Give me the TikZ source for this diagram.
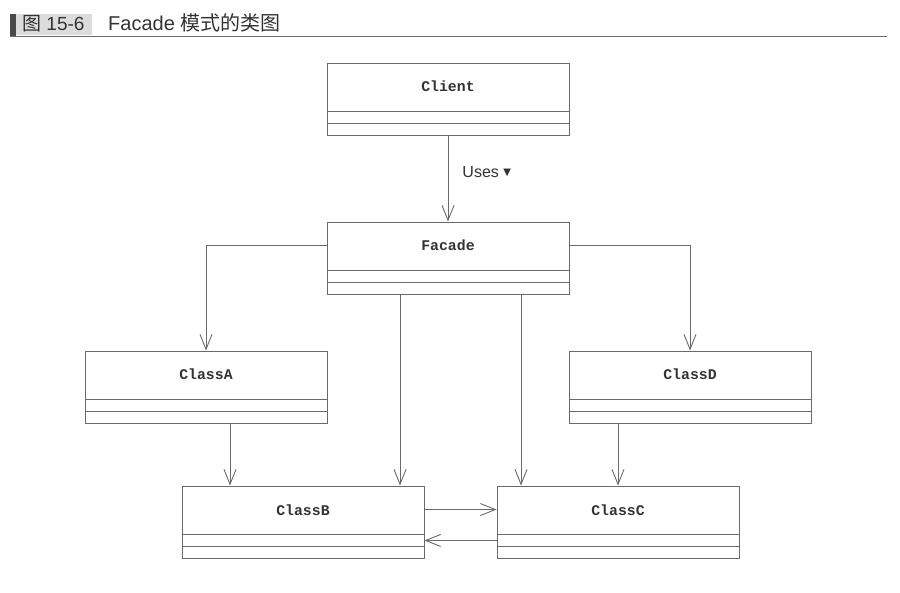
\documentclass[tikz,border=0pt]{standalone}
\usepackage{fontspec}
\setmainfont{Liberation Sans}
\setmonofont{Liberation Mono}
\newfontfamily\cjk{Noto Sans CJK SC}
\newfontfamily\symfont{DejaVu Sans}
\usetikzlibrary{arrows.meta, calc}

\definecolor{umlline}{HTML}{6A6A6A}
\definecolor{umltext}{HTML}{333333}
\definecolor{headbox}{HTML}{DCDCDC}
\definecolor{headbar}{HTML}{4A4A4A}

\tikzset{
  umlclass/.style = {draw = umlline, line width = 0.9pt, minimum width = 242pt,
    inner xsep = 0pt, inner ysep = 0pt, text height = 29pt, text depth = 43pt,
    text = umltext, font = \ttfamily\bfseries\fontsize{14.8}{16}\selectfont,
    path picture = {
      \draw[umlline, line width = 0.9pt]
        ([yshift = 24pt]path picture bounding box.south west) --
        ([yshift = 24pt]path picture bounding box.south east);
      \draw[umlline, line width = 0.9pt]
        ([yshift = 12pt]path picture bounding box.south west) --
        ([yshift = 12pt]path picture bounding box.south east);
    }},
  uses/.style = {draw = umlline, line width = 0.9pt,
    -{Straight Barb[length = 15pt, width = 12pt, line width = 0.9pt]}},
  headtext/.style = {anchor = base west, inner sep = 0pt, text = umltext,
    font = \fontsize{19}{22}\selectfont}
}

\begin{document}
\begin{tikzpicture}[x = 1pt, y = -1pt]
\useasboundingbox (0, 0) rectangle (900, 593);

% header
\fill[headbar] (10, 14) rectangle (16, 37);
\fill[headbox] (16, 14) rectangle (92, 35);
\draw[umlline, line width = 1.3pt] (10, 36.5) -- (887, 36.5);
\node[headtext] (figno) at (22, 31) {{\cjk 图} 15-6};
\node[headtext, font = \fontsize{20}{22}\selectfont] (figtitle) at (108, 31)
  {Facade {\cjk 模式的类图}};

% classes
\node[umlclass] (client) at (448, 99) {Client};
\node[umlclass] (facade) at (448, 258) {Facade};
\node[umlclass] (classA) at (206, 387) {ClassA};
\node[umlclass] (classD) at (690, 387) {ClassD};
\node[umlclass] (classB) at (303, 522) {ClassB};
\node[umlclass] (classC) at (618, 522) {ClassC};

% associations
\draw[uses] (client) -- (facade)
  node[pos = 0.43, anchor = west, inner sep = 0pt, xshift = 14pt, text = umltext,
    font = \fontsize{16}{18}\selectfont] (useslabel)
  {Uses {\symfont\fontsize{10}{10}\selectfont\raisebox{2.5pt}{▼}}};
\draw[uses] ([yshift = -24pt]facade.north west) -| (classA.north);
\draw[uses] ([yshift = -24pt]facade.north east) -| (classD.north);
\draw[uses] ([xshift = -48pt]facade.south) coordinate (fb) -- (fb |- classB.north);
\draw[uses] ([xshift = 73pt]facade.south) coordinate (fc) -- (fc |- classC.north);
\draw[uses] ([xshift = 24pt]classA.south) coordinate (ab) -- (ab |- classB.north);
\draw[uses] (classD.south -| classC.north) -- (classC.north);
\draw[uses] ([yshift = -24pt]classB.north east) -- ([yshift = -24pt]classC.north west);
\draw[uses] ([yshift = 18pt]classC.south west) -- ([yshift = 18pt]classB.south east);
\end{tikzpicture}
\end{document}
